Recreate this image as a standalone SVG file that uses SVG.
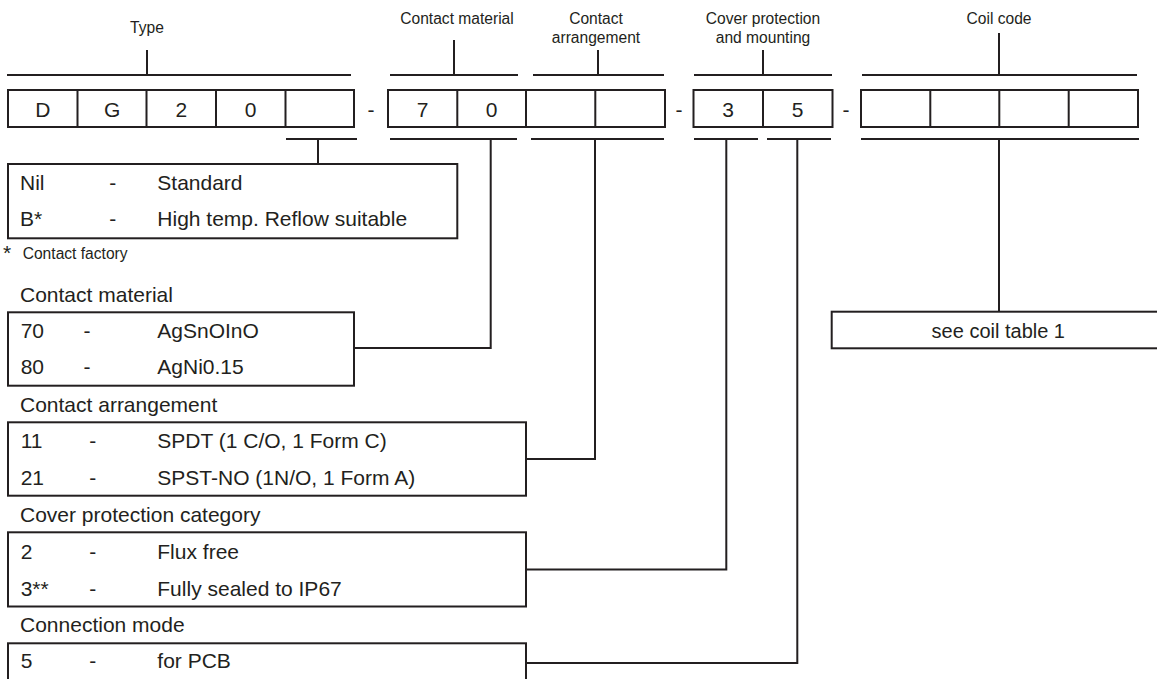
<svg xmlns="http://www.w3.org/2000/svg" width="1157" height="679" viewBox="0 0 1157 679">
<style>
text{font-family:"Liberation Sans",Arial,sans-serif;fill:#231f20}
.lbl{font-size:15.6px;text-anchor:middle}
.big{font-size:21px}
.mid{text-anchor:middle}
.ln{fill:none;stroke:#231f20;stroke-width:2}
.bx{fill:#fff;stroke:#231f20;stroke-width:2}
</style>
<rect width="1157" height="679" fill="#fff"/>

<g id="header-labels">
<text class="lbl" x="147" y="33">Type</text>
<text class="lbl" x="457" y="24">Contact material</text>
<text class="lbl" x="596" y="24">Contact</text>
<text class="lbl" x="596" y="43">arrangement</text>
<text class="lbl" x="763" y="24">Cover protection</text>
<text class="lbl" x="763" y="43">and mounting</text>
<text class="lbl" x="999" y="24">Coil code</text>
</g>

<g id="top-brackets" class="ln">
<path d="M7,75H351M147,50V75"/>
<path d="M390,75H518M454,40V75"/>
<path d="M533,75H664M598,50V75"/>
<path d="M694,75H832M763,50V75"/>
<path d="M862,75H1137M999,33V75"/>
</g>

<g id="code-type">
<rect class="bx" x="8" y="90" width="346" height="37"/>
<path class="ln" d="M77.5,90V127M146.5,90V127M216,90V127M285.5,90V127"/>
<text class="big mid" x="42.8" y="117">D</text>
<text class="big mid" x="112.2" y="117">G</text>
<text class="big mid" x="181.3" y="117">2</text>
<text class="big mid" x="250.7" y="117">0</text>
</g>
<text class="big mid" x="371" y="117">-</text>
<g id="code-contact">
<rect class="bx" x="388" y="90" width="277" height="37"/>
<path class="ln" d="M457.3,90V127M526,90V127M595.3,90V127"/>
<text class="big mid" x="422.5" y="117">7</text>
<text class="big mid" x="491.7" y="117">0</text>
</g>
<text class="big mid" x="679" y="117">-</text>
<g id="code-cover">
<rect class="bx" x="693.5" y="90" width="139" height="37"/>
<path class="ln" d="M763,90V127"/>
<text class="big mid" x="728.2" y="117">3</text>
<text class="big mid" x="797.7" y="117">5</text>
</g>
<text class="big mid" x="846" y="117">-</text>
<g id="code-coil">
<rect class="bx" x="861" y="90" width="277" height="37"/>
<path class="ln" d="M930.3,90V127M999.3,90V127M1068.7,90V127"/>
</g>

<g id="connectors" class="ln">
<path d="M286,139H357M318,139V164"/>
<path d="M390,139H517M490.7,139V348H354"/>
<path d="M531,139H664M595,139V459H526"/>
<path d="M694,139H758M726.3,139V569.5H526"/>
<path d="M767,139H831M797.3,139V663H526"/>
<path d="M861,139H1139M999,139V311.7"/>
</g>

<g id="type-options">
<rect class="bx" x="8" y="164" width="449.3" height="74.3"/>
<text class="big" x="20" y="190">Nil</text>
<text class="big mid" x="112.7" y="190">-</text>
<text class="big" x="157.3" y="190">Standard</text>
<text class="big" x="20" y="226">B*</text>
<text class="big mid" x="112.7" y="226">-</text>
<text class="big" x="157.3" y="226">High temp. Reflow suitable</text>
</g>
<g id="footnote">
<text class="big" x="3" y="260">*</text>
<text style="font-size:15.6px" x="22.7" y="259.3">Contact factory</text>
</g>

<g id="contact-material">
<text class="big" x="20" y="301.7">Contact material</text>
<rect class="bx" x="8" y="312.3" width="346" height="73.4"/>
<text class="big" x="20.7" y="338.3">70</text>
<text class="big mid" x="87" y="338.3">-</text>
<text class="big" x="157.3" y="338.3">AgSnOInO</text>
<text class="big" x="20.7" y="374.3">80</text>
<text class="big mid" x="87" y="374.3">-</text>
<text class="big" x="157.3" y="374.3">AgNi0.15</text>
</g>

<g id="contact-arrangement">
<text class="big" x="20" y="411.7">Contact arrangement</text>
<rect class="bx" x="8" y="422.3" width="518" height="73.4"/>
<text class="big" x="20.7" y="448.3">11</text>
<text class="big mid" x="92.7" y="448.3">-</text>
<text class="big" x="157.3" y="448.3">SPDT (1 C/O, 1 Form C)</text>
<text class="big" x="20.7" y="485">21</text>
<text class="big mid" x="92.7" y="485">-</text>
<text class="big" x="157.3" y="485">SPST-NO (1N/O, 1 Form A)</text>
</g>

<g id="cover-protection">
<text class="big" x="20" y="521.5">Cover protection category</text>
<rect class="bx" x="8" y="532.3" width="518" height="74.2"/>
<text class="big" x="20.7" y="559.3">2</text>
<text class="big mid" x="92.7" y="559.3">-</text>
<text class="big" x="157.3" y="559.3">Flux free</text>
<text class="big" x="20.7" y="596">3**</text>
<text class="big mid" x="92.7" y="596">-</text>
<text class="big" x="157.3" y="596">Fully sealed to IP67</text>
</g>

<g id="connection-mode">
<text class="big" x="20" y="631.7">Connection mode</text>
<rect class="bx" x="8" y="643.3" width="518" height="80"/>
<text class="big" x="20.7" y="668.3">5</text>
<text class="big mid" x="92.7" y="668.3">-</text>
<text class="big" x="157.3" y="668.3">for PCB</text>
</g>

<g id="coil-table">
<rect class="bx" x="831.7" y="311.7" width="340" height="36.6"/>
<text class="big mid" x="998.3" y="338.3" style="font-size:20px">see coil table 1</text>
</g>
</svg>
